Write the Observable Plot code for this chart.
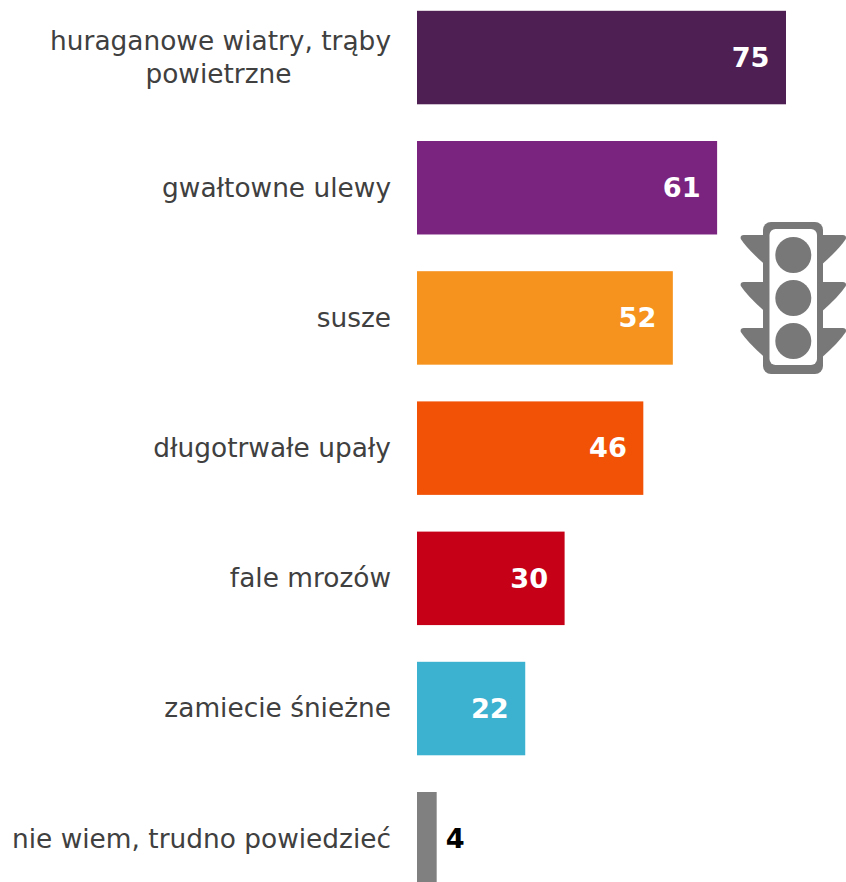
<!DOCTYPE html>
<html lang="pl">
<head>
<meta charset="utf-8">
<script src="https://cdn.jsdelivr.net/npm/d3@7"></script>
<script src="https://cdn.jsdelivr.net/npm/@observablehq/plot@0.6"></script>
<style>
  html, body { margin: 0; padding: 0; background: #fff; }
  #chart { position: relative; width: 846px; height: 882px; overflow: hidden; }
  #chart svg { display: block; }
  #signal { position: absolute; left: 0; top: 0; pointer-events: none; }
</style>
</head>
<body>
<div id="chart"></div>
<script>
// Zjawiska pogodowe: odsetek wskazań
const categories = [
  "huraganowe wiatry, trąby powietrzne",
  "gwałtowne ulewy",
  "susze",
  "długotrwałe upały",
  "fale mrozów",
  "zamiecie śnieżne",
  "nie wiem, trudno powiedzieć"
];
const values = [75, 61, 52, 46, 30, 22, 4];
const colors = ["#4d1f52", "#7a2480", "#f6921e", "#f25206", "#c50017", "#3db1d0", "#808080"];
const singleLine = categories.slice(1);
const wrappedLines = ["huraganowe wiatry, trąby", "powietrzne"];

const rows = categories.map((category, i) => ({category, value: values[i], color: colors[i]}));
const inside = rows.filter(d => d.value >= 10);
const outside = rows.filter(d => d.value < 10);

const fontFamily = "'DejaVu Sans', Verdana, sans-serif";
const labelColor = "#404040";
const labelSize = 26.4;
const valueSize = 27.2;

const plot = Plot.plot({
  width: 846,
  height: 882,
  marginLeft: 417,
  marginRight: 0,
  marginTop: 0,
  marginBottom: 0,
  style: {fontFamily, background: "#fff"},
  x: {domain: [0, 429 / 4.92], axis: null},
  y: {
    domain: categories,
    range: [10.8, 10.8 + 130.2 * 6.718],
    paddingInner: 0.282,
    paddingOuter: 0,
    round: false,
    axis: null
  },
  marks: [
    Plot.barX(rows, {x: "value", y: "category", fill: d => d.color}),
    // Etykiety kategorii, wyrównane do prawej przy osi
    Plot.text(singleLine, {
      x: () => 0, y: d => d, text: d => d,
      textAnchor: "end", dx: -26.5, fontSize: labelSize, fill: labelColor
    }),
    // Dwuwierszowa etykieta pierwszej kategorii, wiersze wyśrodkowane względem siebie
    Plot.text([wrappedLines[0]], {
      x: () => 0, y: () => categories[0], text: d => d,
      textAnchor: "end", dx: -26.5, dy: -16, fontSize: labelSize, fill: labelColor
    }),
    Plot.text([wrappedLines[1]], {
      x: () => 0, y: () => categories[0], text: d => d,
      textAnchor: "middle", dx: -199, dy: 17, fontSize: labelSize, fill: labelColor
    }),
    // Wartości: wewnątrz słupka lub tuż obok, gdy słupek jest wąski
    Plot.text(inside, {
      x: "value", y: "category", text: d => String(d.value),
      textAnchor: "end", dx: -17, fontSize: valueSize, fontWeight: "bold", fill: "#fff"
    }),
    Plot.text(outside, {
      x: "value", y: "category", text: d => String(d.value),
      textAnchor: "start", dx: 8.5, fontSize: valueSize, fontWeight: "bold", fill: "#000"
    })
  ]
});

const chart = document.getElementById("chart");
chart.appendChild(plot);

// Ikona sygnalizatora po prawej stronie wykresu
const iconColor = "#787878";
const wingTops = [235, 282, 328];
const wingHeight = 30;
const axisX = 793.3;
const wing = (top, side) => {
  const x = d => axisX + side * d;
  return `M${x(28)},${top}L${x(49.5)},${top}Q${x(53.5)},${top} ${x(52.5)},${top + 4}` +
    `Q${x(46)},${top + 14} ${x(28)},${top + wingHeight}Z`;
};
const svgNS = "http://www.w3.org/2000/svg";
const icon = document.createElementNS(svgNS, "svg");
icon.setAttribute("id", "signal");
icon.setAttribute("width", 846);
icon.setAttribute("height", 882);
icon.innerHTML = `
  ${wingTops.map(t => `<path d="${wing(t, -1)}" fill="${iconColor}"/><path d="${wing(t, 1)}" fill="${iconColor}"/>`).join("")}
  <rect x="763" y="222" width="60" height="152" rx="8" fill="${iconColor}"/>
  <rect x="769.5" y="229" width="47.5" height="136" rx="6" fill="#fff"/>
  ${[255, 298, 341].map(cy => `<circle cx="${axisX}" cy="${cy}" r="18" fill="${iconColor}"/>`).join("")}
`;
chart.appendChild(icon);
</script>
</body>
</html>
